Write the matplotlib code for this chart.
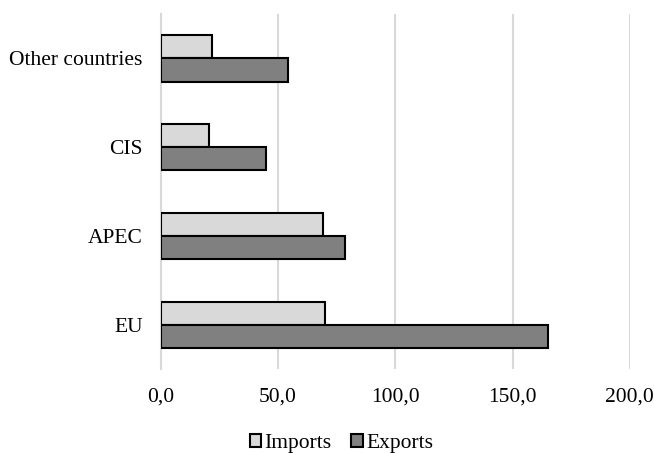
import matplotlib
matplotlib.use("Agg")
import matplotlib.pyplot as plt
import numpy as np

# trade by region, bottom to top
regions = ["EU", "APEC", "CIS", "Other countries"]
imports = [69.9, 69.2, 20.6, 22.0]
exports = [165.3, 78.5, 44.8, 54.4]
x_ticks = [0, 50, 100, 150, 200]

plt.rcParams["font.family"] = ["Liberation Serif", "DejaVu Serif"]
plt.rcParams["font.size"] = 15.5

fig = plt.figure(figsize=(6.54, 4.53), dpi=100)
ax = fig.add_axes([0.246, 0.185, 0.717, 0.784])

y = np.arange(len(regions))
h = 0.26
ax.barh(y + h / 2, imports, height=h, color="#d9d9d9", edgecolor="black",
        linewidth=1.5, label="Imports", zorder=3)
ax.barh(y - h / 2, exports, height=h, color="#808080", edgecolor="black",
        linewidth=1.5, label="Exports", zorder=3)

ax.set_xlim(0, 200)
ax.set_ylim(-0.5, len(regions) - 0.5)
ax.set_xticks(x_ticks)
ax.set_xticklabels([f"{v:.1f}".replace(".", ",") for v in x_ticks])
ax.set_yticks(y)
ax.set_yticklabels(regions)
ax.tick_params(axis="both", length=0, pad=13)

# vertical grid only, light gray
ax.grid(axis="x", color="#d9d9d9", linewidth=1.5, zorder=0)
ax.grid(axis="y", visible=False)
for side in ["top", "right", "bottom"]:
    ax.spines[side].set_visible(False)
ax.spines["left"].set_color("#d9d9d9")
ax.spines["left"].set_linewidth(1.5)

fig.legend(loc="center", bbox_to_anchor=(0.522, 0.021), ncol=2, frameon=False,
           handlelength=0.55, handleheight=0.55, handletextpad=0.15,
           columnspacing=0.9, fontsize=15.5)

fig.savefig("out.png", dpi=100)
